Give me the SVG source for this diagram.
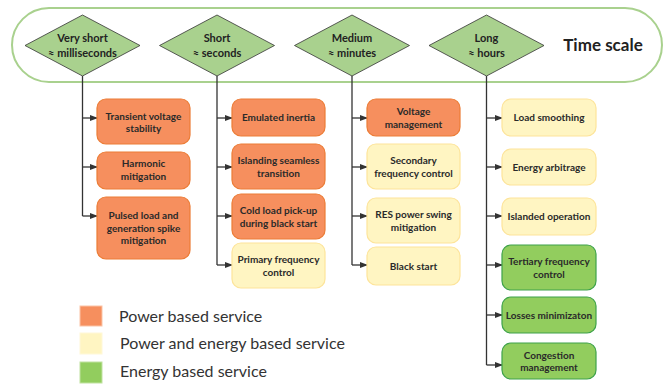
<svg xmlns="http://www.w3.org/2000/svg" width="669" height="385" viewBox="0 0 669 385">
<defs>
<marker id="ah" markerWidth="8" markerHeight="6" refX="7" refY="3" orient="auto" markerUnits="userSpaceOnUse">
<path d="M0,0 L8,3 L0,6 Z" fill="#333"/>
</marker>
<style>
.dia{fill:#a9d18e;stroke:#333;stroke-width:0.8}
.dt{font-family:Lato,"Liberation Sans",sans-serif;font-weight:bold;font-size:11px;fill:#222;text-anchor:middle}
.bt{font-family:Lato,"Liberation Sans",sans-serif;font-weight:bold;font-size:10px;fill:#2a2a2a;text-anchor:middle}
.p{fill:#f68f5e;stroke:#ec7c36;stroke-width:1.2}
.pe{fill:#fff5c2;stroke:#fde49a;stroke-width:1.2}
.e{fill:#92cd5e;stroke:#3ea24a;stroke-width:1.2}
.ln{fill:none;stroke:#333;stroke-width:1.3}
.ar{fill:none;stroke:#333;stroke-width:1.3;marker-end:url(#ah)}
.lg{font-family:Lato,"Liberation Sans",sans-serif;font-size:16px;fill:#333}
</style>
</defs>
<rect x="0" y="0" width="669" height="385" fill="#fff"/>
<rect id="timescale" x="12" y="8" width="650" height="74" rx="37" ry="37" fill="#fff" stroke="#a9d18e" stroke-width="2"/>
<text x="603" y="51" font-family="Lato,'Liberation Sans',sans-serif" font-weight="bold" font-size="17px" fill="#222" text-anchor="middle">Time scale</text>

<g id="connectors">
<path class="ln" d="M82.5,76 V216"/>
<path class="ar" d="M82.5,118 H97"/>
<path class="ar" d="M82.5,167 H97"/>
<path class="ar" d="M82.5,216 H97"/>
<path class="ln" d="M217,76 V265"/>
<path class="ar" d="M217,118 H232"/>
<path class="ar" d="M217,167 H232"/>
<path class="ar" d="M217,216 H232"/>
<path class="ar" d="M217,265 H232"/>
<path class="ln" d="M352,76 V265"/>
<path class="ar" d="M352,118 H367"/>
<path class="ar" d="M352,167 H367"/>
<path class="ar" d="M352,216 H367"/>
<path class="ar" d="M352,265 H367"/>
<path class="ln" d="M486.5,76 V365"/>
<path class="ar" d="M486.5,118 H502"/>
<path class="ar" d="M486.5,167 H502"/>
<path class="ar" d="M486.5,216 H502"/>
<path class="ar" d="M486.5,265 H502"/>
<path class="ar" d="M486.5,315 H502"/>
<path class="ar" d="M486.5,365 H502"/>
</g>

<g id="d-veryshort"><polygon class="dia" points="82.5,15 140,45.5 82.5,76 25,45.5"/><text class="dt" x="82.5" y="42">Very short</text><text class="dt" x="82.5" y="56.5">≈ milliseconds</text></g>
<g id="d-short"><polygon class="dia" points="217,15 274.5,45.5 217,76 159.5,45.5"/><text class="dt" x="217" y="42">Short</text><text class="dt" x="217" y="56.5">≈ seconds</text></g>
<g id="d-medium"><polygon class="dia" points="352,15 409.5,45.5 352,76 294.5,45.5"/><text class="dt" x="352" y="42">Medium</text><text class="dt" x="352" y="56.5">≈ minutes</text></g>
<g id="d-long"><polygon class="dia" points="486.5,15 544,45.5 486.5,76 429,45.5"/><text class="dt" x="486.5" y="42">Long</text><text class="dt" x="486.5" y="56.5">≈ hours</text></g>

<g id="n-transient"><rect class="p" x="97" y="99" width="93" height="45" rx="9"/><text class="bt" x="143.5" y="119.5">Transient voltage</text><text class="bt" x="143.5" y="132">stability</text></g>
<g id="n-harmonic"><rect class="p" x="97" y="152" width="93" height="37" rx="9"/><text class="bt" x="143.5" y="167">Harmonic</text><text class="bt" x="143.5" y="179.5">mitigation</text></g>
<g id="n-pulsed"><rect class="p" x="97" y="197" width="93" height="62" rx="9"/><text class="bt" x="143.5" y="219">Pulsed load and</text><text class="bt" x="143.5" y="231.5">generation spike</text><text class="bt" x="143.5" y="244">mitigation</text></g>

<g id="n-inertia"><rect class="p" x="232" y="99" width="93" height="37" rx="9"/><text class="bt" x="278.5" y="121">Emulated inertia</text></g>
<g id="n-islanding"><rect class="p" x="232" y="144" width="93" height="45" rx="9"/><text class="bt" x="278.5" y="164">Islanding seamless</text><text class="bt" x="278.5" y="176.5">transition</text></g>
<g id="n-coldload"><rect class="p" x="232" y="194" width="93" height="45" rx="9"/><text class="bt" x="278.5" y="214">Cold load pick-up</text><text class="bt" x="278.5" y="226.5">during black start</text></g>
<g id="n-primary"><rect class="pe" x="232" y="243" width="93" height="45" rx="9"/><text class="bt" x="278.5" y="263">Primary frequency</text><text class="bt" x="278.5" y="275.5">control</text></g>

<g id="n-voltage"><rect class="p" x="367" y="99" width="93" height="37" rx="9"/><text class="bt" x="413.5" y="115">Voltage</text><text class="bt" x="413.5" y="127.5">management</text></g>
<g id="n-secondary"><rect class="pe" x="367" y="144" width="93" height="45" rx="9"/><text class="bt" x="413.5" y="164">Secondary</text><text class="bt" x="413.5" y="176.5">frequency control</text></g>
<g id="n-res"><rect class="pe" x="367" y="198" width="93" height="45" rx="9"/><text class="bt" x="413.5" y="218">RES power swing</text><text class="bt" x="413.5" y="230.5">mitigation</text></g>
<g id="n-blackstart"><rect class="pe" x="367" y="247" width="93" height="38" rx="9"/><text class="bt" x="413.5" y="269.5">Black start</text></g>

<g id="n-loadsmooth"><rect class="pe" x="502" y="99" width="94" height="37" rx="9"/><text class="bt" x="549" y="121">Load smoothing</text></g>
<g id="n-arbitrage"><rect class="pe" x="502" y="149" width="94" height="36" rx="9"/><text class="bt" x="549" y="170.5">Energy arbitrage</text></g>
<g id="n-islanded"><rect class="pe" x="502" y="198" width="94" height="37" rx="9"/><text class="bt" x="549" y="220">Islanded operation</text></g>
<g id="n-tertiary"><rect class="e" x="502" y="245" width="94" height="45" rx="9"/><text class="bt" x="549" y="265">Tertiary frequency</text><text class="bt" x="549" y="277.5">control</text></g>
<g id="n-losses"><rect class="e" x="502" y="297" width="94" height="36" rx="9"/><text class="bt" x="549" y="318.5">Losses minimizaton</text></g>
<g id="n-congestion"><rect class="e" x="502" y="343" width="94" height="36" rx="9"/><text class="bt" x="549" y="358.5">Congestion</text><text class="bt" x="549" y="371">management</text></g>

<g id="legend">
<rect x="80" y="306" width="22" height="20" fill="#f68f5e" stroke="#fbc3a5" stroke-width="1"/>
<text class="lg" x="119" y="322">Power based service</text>
<rect x="80" y="333" width="22" height="21" fill="#fff5c2" stroke="#fff8d8" stroke-width="1"/>
<text class="lg" x="120" y="349">Power and energy based service</text>
<rect x="80" y="362" width="22" height="21" fill="#92cd5e" stroke="#c0e2a0" stroke-width="1"/>
<text class="lg" x="120" y="377">Energy based service</text>
</g>
</svg>
